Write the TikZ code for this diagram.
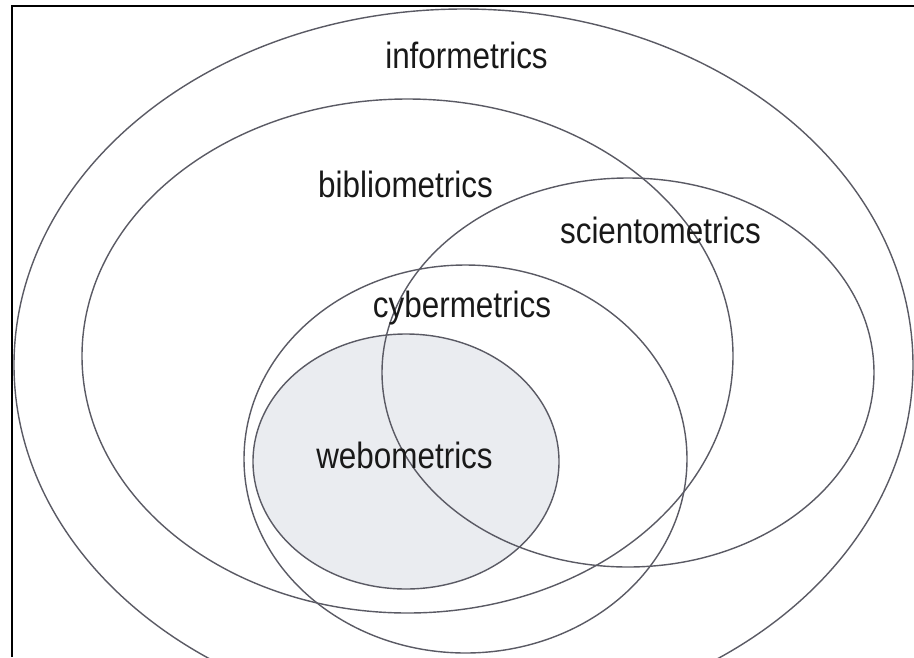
\documentclass[tikz,border=0pt]{standalone}
\usepackage{fontspec}
\setmainfont{Liberation Sans}
\newfontfamily\narrowsans[FakeStretch=0.86]{Liberation Sans}
\begin{document}
\begin{tikzpicture}[x=0.02cm,y=-0.02cm,line width=0.8pt]
\definecolor{pencil}{RGB}{90,90,100}
\definecolor{webfill}{RGB}{234,236,240}
\tikzset{lab/.style={anchor=base,text=black!90,font=\narrowsans\fontsize{20.8pt}{24pt}\selectfont}}
\useasboundingbox (0,0) rectangle (914,657);
\draw[line width=1.2pt] (12,657) -- (12,6) -- (914,6);
\begin{scope}
\clip (12,6) rectangle (914,657);
\fill[webfill] (406,461.5) ellipse[x radius=153,y radius=127.5];
\foreach \cx/\cy/\rx/\ry in {463.5/365/449.5/356, 407.5/356/325.5/257,
    628/372.5/246/194.5, 465.5/459/221.5/194, 406/461.5/153/127.5}
  \draw[pencil] (\cx,\cy) ellipse[x radius=\rx,y radius=\ry];
\end{scope}
\foreach \n/\x/\y in {informetrics/466.5/68.5, bibliometrics/405.5/197,
    scientometrics/660.5/243, cybermetrics/462/317, webometrics/404.5/468}
  \node[lab] (\n) at (\x,\y) {\n};
\end{tikzpicture}
\end{document}
